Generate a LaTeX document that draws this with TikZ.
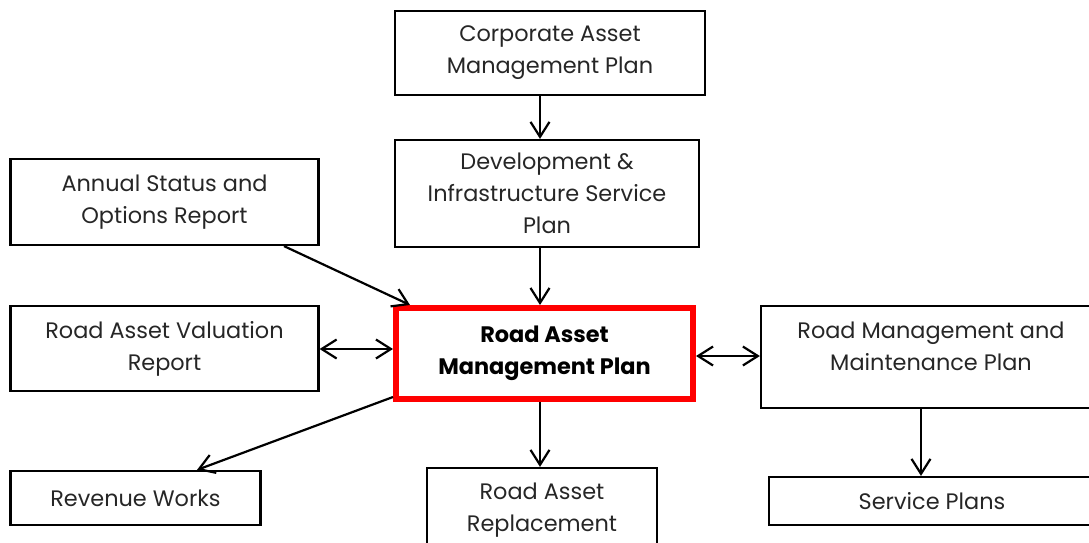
\documentclass[tikz,border=0pt]{standalone}
\usepackage{fontspec}
\setmainfont{Poppins}
\usetikzlibrary{arrows.meta}

\begin{document}
\begin{tikzpicture}[x=0.5pt,y=-0.5pt,
    box/.style={draw=black, line width=1.1pt, align=center, inner sep=0pt,
      text=black!85, font=\fontsize{11.2}{16}\selectfont},
    mainbox/.style={box, draw=red, line width=3pt, text=black, font=\fontsize{11.2}{16}\selectfont\bfseries},
    flow/.style={line width=1.1pt, -{Straight Barb[length=7.5pt,width=9.5pt,line width=1.1pt]}},
    both/.style={flow, {Straight Barb[length=7.5pt,width=9.5pt,line width=1.1pt]}-{Straight Barb[length=7.5pt,width=9.5pt,line width=1.1pt]}}]
    \useasboundingbox (0,0) rectangle (1089,542);
    % boxes
    \node[box, minimum width=155pt, minimum height=42pt] (corp) at (550,53) {Corporate Asset\\Management Plan};
    \node[box, minimum width=152pt, minimum height=53.5pt] (dev) at (547,193.5) {Development \&\\Infrastructure Service\\Plan};
    \node[box, minimum width=154pt, minimum height=43pt] (annual) at (164.5,202) {Annual Status and\\Options Report};
    \node[box, minimum width=154pt, minimum height=42.5pt] (valuation) at (164.5,348.5) {Road Asset Valuation\\Report};
    \node[mainbox, minimum width=148.5pt, minimum height=45.5pt] (ramp) at (544.5,353.5) {Road Asset\\Management Plan};
    \node[box, minimum width=170pt, minimum height=51pt] (rmmp) at (931,357) {};
    \node[align=center, text=black!85, font=\fontsize{11.2}{16}\selectfont] (rmmptext) at (931,346) {Road Management and\\Maintenance Plan};
    \node[box, minimum width=125pt, minimum height=27pt] (revenue) at (135.5,498) {Revenue Works};
    \node[box, minimum width=115pt, minimum height=42pt] (replace) at (542,510) {Road Asset\\Replacement};
    \node[box, minimum width=163pt, minimum height=24pt] (service) at (932,501) {Service Plans};
    % connectors
    \draw[flow] (corp.south -| 540,0) -- (dev.north -| 540,0);
    \draw[flow] (dev.south -| 540,0) -- (ramp.north -| 540,0);
    \draw[flow] (annual.south -| 284,0) -- ([xshift=8.5pt]ramp.north west);
    \draw[both] (valuation.east |- 0,349) -- (ramp.west |- 0,349);
    \draw[both] (ramp.east |- 0,356) -- (rmmp.west |- 0,356);
    \draw[flow] (ramp.west |- 0,397) -- (revenue.north -| 197,0);
    \draw[flow] (ramp.south -| 540,0) -- (replace.north -| 540,0);
    \draw[flow] (rmmp.south -| 921,0) -- (service.north -| 921,0);
\end{tikzpicture}
\end{document}
